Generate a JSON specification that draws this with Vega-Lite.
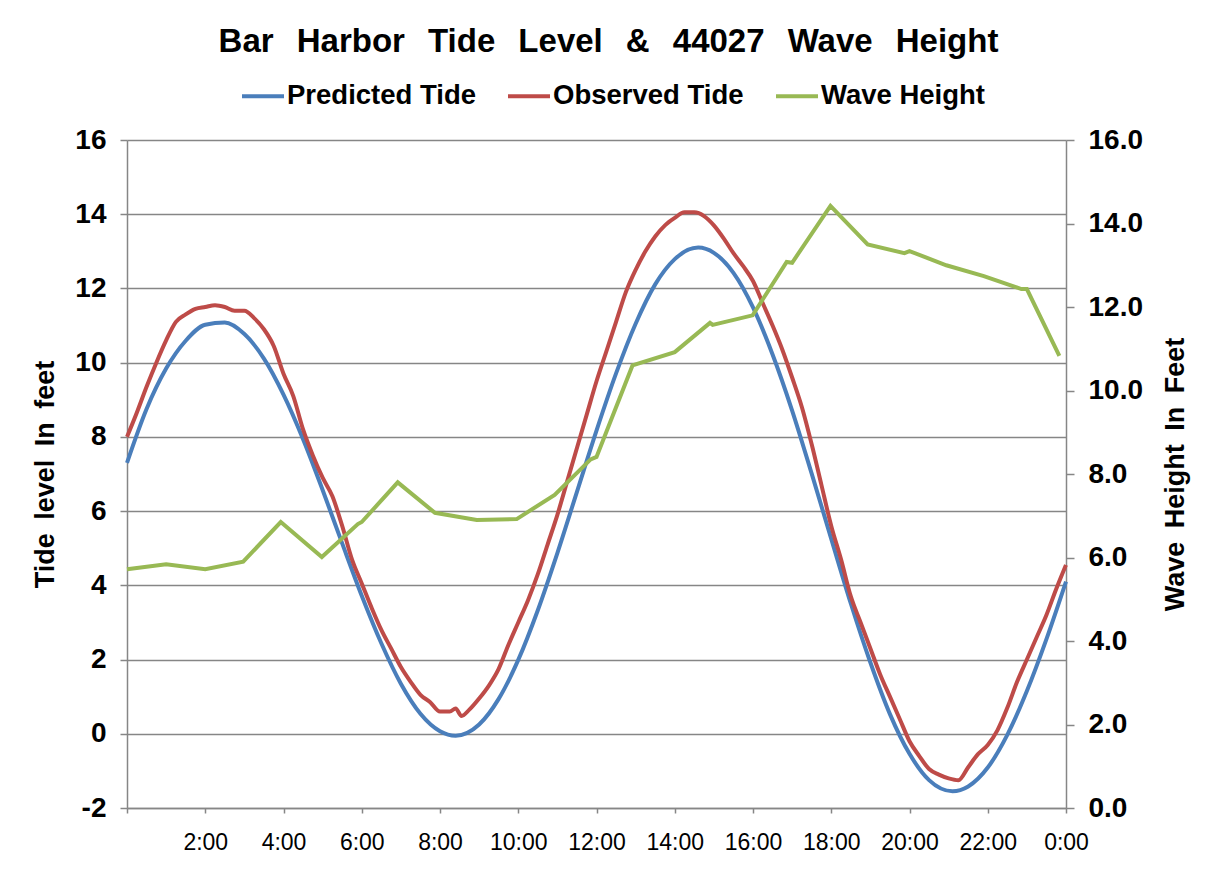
{
  "$schema": "https://vega.github.io/schema/vega-lite/v6.json",
  "width": 939,
  "height": 668,
  "autosize": {"type": "none"},
  "padding": {"left": 127, "top": 140, "right": 145, "bottom": 66},
  "background": "white",
  "config": {
    "font": "Liberation Sans",
    "view": {"stroke": null},
    "legend": {
      "labelFont": "Liberation Sans",
      "labelFontSize": 27.5,
      "labelFontWeight": "bold",
      "labelColor": "#000000",
      "labelLimit": 400,
      "symbolType": "stroke",
      "symbolSize": 1764,
      "symbolStrokeWidth": 4,
      "labelOffset": 1,
      "columnPadding": 24,
      "padding": 0
    }
  },
  "title": {
    "text": "Bar\u2002\u2009Harbor\u2002\u2009Tide\u2002\u2009Level\u2002\u2009&\u2002\u200944027\u2002\u2009Wave\u2002\u2009Height",
    "font": "Liberation Sans",
    "fontSize": 33,
    "fontWeight": "bold",
    "color": "#000000",
    "anchor": "middle",
    "dx": 12,
    "offset": 14
  },
  "datasets": {
    "tide": [
      {"series": "Predicted Tide", "hour": 0, "feet": 7.3},
      {"series": "Predicted Tide", "hour": 0.5, "feet": 8.75},
      {"series": "Predicted Tide", "hour": 1.0, "feet": 9.84},
      {"series": "Predicted Tide", "hour": 1.5, "feet": 10.59},
      {"series": "Predicted Tide", "hour": 2.0, "feet": 11.02},
      {"series": "Predicted Tide", "hour": 2.5, "feet": 11.08},
      {"series": "Predicted Tide", "hour": 3.0, "feet": 10.77},
      {"series": "Predicted Tide", "hour": 3.5, "feet": 10.11},
      {"series": "Predicted Tide", "hour": 4.0, "feet": 9.14},
      {"series": "Predicted Tide", "hour": 4.5, "feet": 7.94},
      {"series": "Predicted Tide", "hour": 5.0, "feet": 6.57},
      {"series": "Predicted Tide", "hour": 5.5, "feet": 5.13},
      {"series": "Predicted Tide", "hour": 6.0, "feet": 3.72},
      {"series": "Predicted Tide", "hour": 6.5, "feet": 2.44},
      {"series": "Predicted Tide", "hour": 7.0, "feet": 1.35},
      {"series": "Predicted Tide", "hour": 7.5, "feet": 0.54},
      {"series": "Predicted Tide", "hour": 8.0, "feet": 0.07},
      {"series": "Predicted Tide", "hour": 8.4, "feet": -0.05},
      {"series": "Predicted Tide", "hour": 9.0, "feet": 0.25},
      {"series": "Predicted Tide", "hour": 9.5, "feet": 0.94},
      {"series": "Predicted Tide", "hour": 10.0, "feet": 1.99},
      {"series": "Predicted Tide", "hour": 10.5, "feet": 3.33},
      {"series": "Predicted Tide", "hour": 11.0, "feet": 4.87},
      {"series": "Predicted Tide", "hour": 11.5, "feet": 6.52},
      {"series": "Predicted Tide", "hour": 12.0, "feet": 8.17},
      {"series": "Predicted Tide", "hour": 12.5, "feet": 9.71},
      {"series": "Predicted Tide", "hour": 13.0, "feet": 11.05},
      {"series": "Predicted Tide", "hour": 13.5, "feet": 12.11},
      {"series": "Predicted Tide", "hour": 14.0, "feet": 12.79},
      {"series": "Predicted Tide", "hour": 14.6, "feet": 13.1},
      {"series": "Predicted Tide", "hour": 15.0, "feet": 12.96},
      {"series": "Predicted Tide", "hour": 15.5, "feet": 12.42},
      {"series": "Predicted Tide", "hour": 16.0, "feet": 11.49},
      {"series": "Predicted Tide", "hour": 16.5, "feet": 10.22},
      {"series": "Predicted Tide", "hour": 17.0, "feet": 8.71},
      {"series": "Predicted Tide", "hour": 17.5, "feet": 7.01},
      {"series": "Predicted Tide", "hour": 18.0, "feet": 5.25},
      {"series": "Predicted Tide", "hour": 18.5, "feet": 3.51},
      {"series": "Predicted Tide", "hour": 19.0, "feet": 1.92},
      {"series": "Predicted Tide", "hour": 19.5, "feet": 0.53},
      {"series": "Predicted Tide", "hour": 20.0, "feet": -0.54},
      {"series": "Predicted Tide", "hour": 20.5, "feet": -1.25},
      {"series": "Predicted Tide", "hour": 21.1, "feet": -1.55},
      {"series": "Predicted Tide", "hour": 21.5, "feet": -1.42},
      {"series": "Predicted Tide", "hour": 22.0, "feet": -0.91},
      {"series": "Predicted Tide", "hour": 22.5, "feet": -0.03},
      {"series": "Predicted Tide", "hour": 23.0, "feet": 1.15},
      {"series": "Predicted Tide", "hour": 23.5, "feet": 2.55},
      {"series": "Predicted Tide", "hour": 24.0, "feet": 4.1},
      {"series": "Observed Tide", "hour": 0, "feet": 8.0},
      {"series": "Observed Tide", "hour": 0.25, "feet": 8.65},
      {"series": "Observed Tide", "hour": 0.5, "feet": 9.35},
      {"series": "Observed Tide", "hour": 0.75, "feet": 10.0},
      {"series": "Observed Tide", "hour": 1.0, "feet": 10.6},
      {"series": "Observed Tide", "hour": 1.25, "feet": 11.1},
      {"series": "Observed Tide", "hour": 1.5, "feet": 11.3},
      {"series": "Observed Tide", "hour": 1.75, "feet": 11.45},
      {"series": "Observed Tide", "hour": 2.0, "feet": 11.5},
      {"series": "Observed Tide", "hour": 2.25, "feet": 11.55},
      {"series": "Observed Tide", "hour": 2.5, "feet": 11.5},
      {"series": "Observed Tide", "hour": 2.75, "feet": 11.4},
      {"series": "Observed Tide", "hour": 3.0, "feet": 11.4},
      {"series": "Observed Tide", "hour": 3.25, "feet": 11.2},
      {"series": "Observed Tide", "hour": 3.5, "feet": 10.9},
      {"series": "Observed Tide", "hour": 3.75, "feet": 10.45},
      {"series": "Observed Tide", "hour": 4.0, "feet": 9.7},
      {"series": "Observed Tide", "hour": 4.25, "feet": 9.1},
      {"series": "Observed Tide", "hour": 4.5, "feet": 8.2},
      {"series": "Observed Tide", "hour": 4.75, "feet": 7.5},
      {"series": "Observed Tide", "hour": 5.0, "feet": 6.9},
      {"series": "Observed Tide", "hour": 5.25, "feet": 6.4},
      {"series": "Observed Tide", "hour": 5.5, "feet": 5.6},
      {"series": "Observed Tide", "hour": 5.75, "feet": 4.7},
      {"series": "Observed Tide", "hour": 6.0, "feet": 4.05},
      {"series": "Observed Tide", "hour": 6.25, "feet": 3.4},
      {"series": "Observed Tide", "hour": 6.5, "feet": 2.8},
      {"series": "Observed Tide", "hour": 6.75, "feet": 2.3},
      {"series": "Observed Tide", "hour": 7.0, "feet": 1.8},
      {"series": "Observed Tide", "hour": 7.25, "feet": 1.4},
      {"series": "Observed Tide", "hour": 7.5, "feet": 1.05},
      {"series": "Observed Tide", "hour": 7.75, "feet": 0.85},
      {"series": "Observed Tide", "hour": 8.0, "feet": 0.6},
      {"series": "Observed Tide", "hour": 8.25, "feet": 0.6},
      {"series": "Observed Tide", "hour": 8.4, "feet": 0.68},
      {"series": "Observed Tide", "hour": 8.55, "feet": 0.48},
      {"series": "Observed Tide", "hour": 8.75, "feet": 0.65},
      {"series": "Observed Tide", "hour": 9.0, "feet": 0.95},
      {"series": "Observed Tide", "hour": 9.25, "feet": 1.3},
      {"series": "Observed Tide", "hour": 9.5, "feet": 1.75},
      {"series": "Observed Tide", "hour": 9.75, "feet": 2.4},
      {"series": "Observed Tide", "hour": 10.0, "feet": 3.0},
      {"series": "Observed Tide", "hour": 10.25, "feet": 3.6},
      {"series": "Observed Tide", "hour": 10.5, "feet": 4.3},
      {"series": "Observed Tide", "hour": 10.75, "feet": 5.1},
      {"series": "Observed Tide", "hour": 11.0, "feet": 5.9},
      {"series": "Observed Tide", "hour": 11.25, "feet": 6.8},
      {"series": "Observed Tide", "hour": 11.5, "feet": 7.7},
      {"series": "Observed Tide", "hour": 11.75, "feet": 8.6},
      {"series": "Observed Tide", "hour": 12.0, "feet": 9.5},
      {"series": "Observed Tide", "hour": 12.25, "feet": 10.3},
      {"series": "Observed Tide", "hour": 12.5, "feet": 11.1},
      {"series": "Observed Tide", "hour": 12.75, "feet": 11.9},
      {"series": "Observed Tide", "hour": 13.0, "feet": 12.5},
      {"series": "Observed Tide", "hour": 13.25, "feet": 13.0},
      {"series": "Observed Tide", "hour": 13.5, "feet": 13.4},
      {"series": "Observed Tide", "hour": 13.75, "feet": 13.7},
      {"series": "Observed Tide", "hour": 14.0, "feet": 13.9},
      {"series": "Observed Tide", "hour": 14.25, "feet": 14.05},
      {"series": "Observed Tide", "hour": 14.5, "feet": 14.05},
      {"series": "Observed Tide", "hour": 14.75, "feet": 13.95},
      {"series": "Observed Tide", "hour": 15.0, "feet": 13.7},
      {"series": "Observed Tide", "hour": 15.25, "feet": 13.35},
      {"series": "Observed Tide", "hour": 15.5, "feet": 12.95},
      {"series": "Observed Tide", "hour": 15.75, "feet": 12.6},
      {"series": "Observed Tide", "hour": 16.0, "feet": 12.2},
      {"series": "Observed Tide", "hour": 16.25, "feet": 11.6},
      {"series": "Observed Tide", "hour": 16.5, "feet": 11.0},
      {"series": "Observed Tide", "hour": 16.75, "feet": 10.35},
      {"series": "Observed Tide", "hour": 17.0, "feet": 9.6},
      {"series": "Observed Tide", "hour": 17.25, "feet": 8.8},
      {"series": "Observed Tide", "hour": 17.5, "feet": 7.8},
      {"series": "Observed Tide", "hour": 17.75, "feet": 6.7},
      {"series": "Observed Tide", "hour": 18.0, "feet": 5.6},
      {"series": "Observed Tide", "hour": 18.25, "feet": 4.7},
      {"series": "Observed Tide", "hour": 18.5, "feet": 3.7},
      {"series": "Observed Tide", "hour": 18.75, "feet": 3.0},
      {"series": "Observed Tide", "hour": 19.0, "feet": 2.3},
      {"series": "Observed Tide", "hour": 19.25, "feet": 1.6},
      {"series": "Observed Tide", "hour": 19.5, "feet": 1.0},
      {"series": "Observed Tide", "hour": 19.75, "feet": 0.4},
      {"series": "Observed Tide", "hour": 20.0, "feet": -0.2},
      {"series": "Observed Tide", "hour": 20.25, "feet": -0.6},
      {"series": "Observed Tide", "hour": 20.5, "feet": -0.95},
      {"series": "Observed Tide", "hour": 20.75, "feet": -1.1},
      {"series": "Observed Tide", "hour": 21.0, "feet": -1.2},
      {"series": "Observed Tide", "hour": 21.25, "feet": -1.25},
      {"series": "Observed Tide", "hour": 21.5, "feet": -0.9},
      {"series": "Observed Tide", "hour": 21.75, "feet": -0.55},
      {"series": "Observed Tide", "hour": 22.0, "feet": -0.3},
      {"series": "Observed Tide", "hour": 22.25, "feet": 0.1},
      {"series": "Observed Tide", "hour": 22.5, "feet": 0.7},
      {"series": "Observed Tide", "hour": 22.75, "feet": 1.4},
      {"series": "Observed Tide", "hour": 23.0, "feet": 2.0},
      {"series": "Observed Tide", "hour": 23.25, "feet": 2.6},
      {"series": "Observed Tide", "hour": 23.5, "feet": 3.2},
      {"series": "Observed Tide", "hour": 23.75, "feet": 3.9},
      {"series": "Observed Tide", "hour": 24.0, "feet": 4.55}
    ],
    "wave": [
      {"series": "Wave Height", "hour": 0, "feet": 5.72},
      {"series": "Wave Height", "hour": 1.0, "feet": 5.84},
      {"series": "Wave Height", "hour": 2.0, "feet": 5.72},
      {"series": "Wave Height", "hour": 2.97, "feet": 5.9},
      {"series": "Wave Height", "hour": 3.93, "feet": 6.85},
      {"series": "Wave Height", "hour": 4.98, "feet": 6.01},
      {"series": "Wave Height", "hour": 5.9, "feet": 6.8},
      {"series": "Wave Height", "hour": 6.0, "feet": 6.85},
      {"series": "Wave Height", "hour": 6.92, "feet": 7.8},
      {"series": "Wave Height", "hour": 7.87, "feet": 7.07},
      {"series": "Wave Height", "hour": 8.94, "feet": 6.9},
      {"series": "Wave Height", "hour": 9.96, "feet": 6.92},
      {"series": "Wave Height", "hour": 10.93, "feet": 7.5},
      {"series": "Wave Height", "hour": 11.85, "feet": 8.35},
      {"series": "Wave Height", "hour": 12.0, "feet": 8.41},
      {"series": "Wave Height", "hour": 12.92, "feet": 10.6},
      {"series": "Wave Height", "hour": 14.0, "feet": 10.92},
      {"series": "Wave Height", "hour": 14.9, "feet": 11.62},
      {"series": "Wave Height", "hour": 14.97, "feet": 11.57},
      {"series": "Wave Height", "hour": 15.99, "feet": 11.8},
      {"series": "Wave Height", "hour": 16.86, "feet": 13.08},
      {"series": "Wave Height", "hour": 17.0, "feet": 13.06},
      {"series": "Wave Height", "hour": 17.98, "feet": 14.42},
      {"series": "Wave Height", "hour": 18.93, "feet": 13.5},
      {"series": "Wave Height", "hour": 19.87, "feet": 13.29},
      {"series": "Wave Height", "hour": 20.0, "feet": 13.34},
      {"series": "Wave Height", "hour": 20.94, "feet": 13.0},
      {"series": "Wave Height", "hour": 21.9, "feet": 12.74},
      {"series": "Wave Height", "hour": 22.86, "feet": 12.43},
      {"series": "Wave Height", "hour": 23.0, "feet": 12.43},
      {"series": "Wave Height", "hour": 23.83, "feet": 10.83}
    ]
  },
  "encoding": {
    "x": {
      "field": "hour",
      "type": "quantitative",
      "scale": {"domain": [0, 24], "nice": false, "zero": false},
      "axis": {
        "title": null,
        "values": [0, 2, 4, 6, 8, 10, 12, 14, 16, 18, 20, 22, 24],
        "labelExpr": "datum.value == 0 ? '' : (datum.value % 24) + ':00'",
        "grid": false,
        "labelFlush": false,
        "domainColor": "#868686",
        "domainWidth": 1.5,
        "tickColor": "#868686",
        "tickWidth": 1.5,
        "tickSize": 5,
        "labelFont": "Liberation Sans",
        "labelFontSize": 23,
        "labelColor": "#000000",
        "labelPadding": 18
      }
    }
  },
  "layer": [
    {
      "data": {"name": "tide"},
      "mark": {"type": "line", "strokeWidth": 4, "interpolate": "monotone"},
      "encoding": {
        "y": {
          "field": "feet",
          "type": "quantitative",
          "scale": {"domain": [-2, 16], "nice": false, "zero": false},
          "axis": {
            "orient": "left",
            "values": [-2, 0, 2, 4, 6, 8, 10, 12, 14, 16],
            "labelExpr": "'' + datum.value",
            "grid": true,
            "gridColor": "#868686",
            "gridWidth": 1.4,
            "domainColor": "#868686",
            "domainWidth": 1.5,
            "tickColor": "#868686",
            "tickWidth": 1.5,
            "tickSize": 7,
            "labelFont": "Liberation Sans",
            "labelFontSize": 28,
            "labelFontWeight": "bold",
            "labelColor": "#000000",
            "labelPadding": 14,
            "title": "Tide\u2002level\u2002In\u2002feet",
            "titleFont": "Liberation Sans",
            "titleFontSize": 27,
            "titleFontWeight": "bold",
            "titleColor": "#000000",
            "titleAngle": -90,
            "titleAlign": "center",
            "titleBaseline": "middle",
            "titleX": -82,
            "titleY": 334
          }
        },
        "color": {
          "field": "series",
          "type": "nominal",
          "scale": {
            "domain": ["Predicted Tide", "Observed Tide", "Wave Height"],
            "range": ["#4A7EBB", "#BE4B48", "#98B954"]
          },
          "legend": {
            "title": null,
            "orient": "none",
            "direction": "horizontal",
            "legendX": 113,
            "legendY": -67
          }
        }
      }
    },
    {
      "data": {"name": "wave"},
      "mark": {"type": "line", "strokeWidth": 4},
      "encoding": {
        "y": {
          "field": "feet",
          "type": "quantitative",
          "scale": {"domain": [0, 16], "nice": false, "zero": false},
          "axis": {
            "orient": "right",
            "values": [0, 2, 4, 6, 8, 10, 12, 14, 16],
            "format": ".1f",
            "grid": false,
            "domainColor": "#868686",
            "domainWidth": 1.5,
            "tickColor": "#868686",
            "tickWidth": 1.5,
            "tickSize": 8,
            "labelFont": "Liberation Sans",
            "labelFontSize": 28,
            "labelFontWeight": "bold",
            "labelColor": "#000000",
            "labelPadding": 14,
            "title": "Wave\u2002Height\u2002In\u2002Feet",
            "titleFont": "Liberation Sans",
            "titleFontSize": 27,
            "titleFontWeight": "bold",
            "titleColor": "#000000",
            "titleAngle": -90,
            "titleAlign": "center",
            "titleBaseline": "middle",
            "titleX": 109,
            "titleY": 334
          }
        },
        "color": {
          "field": "series",
          "type": "nominal",
          "scale": {
            "domain": ["Predicted Tide", "Observed Tide", "Wave Height"],
            "range": ["#4A7EBB", "#BE4B48", "#98B954"]
          },
          "legend": {
            "title": null,
            "orient": "none",
            "direction": "horizontal",
            "legendX": 113,
            "legendY": -67
          }
        }
      }
    }
  ],
  "resolve": {"scale": {"y": "independent"}}
}
